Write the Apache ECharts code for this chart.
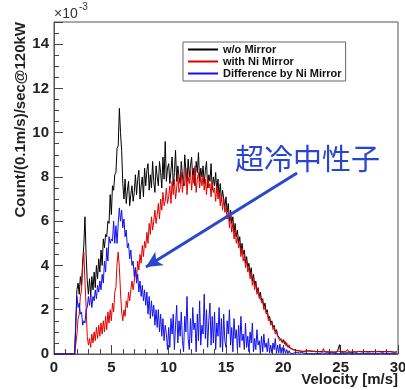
<!DOCTYPE html>
<html>
<head>
<meta charset="utf-8">
<script src="https://cdn.jsdelivr.net/npm/echarts@6/dist/echarts.min.js"></script>
<style>
  html, body { margin: 0; padding: 0; background: #fff; }
  #chart { width: 405px; height: 390px; }
</style>
</head>
<body>
<div id="chart"></div>
<script>
// 0.1 m/s bins starting at 0 m/s, units of 1e-3 counts
const binStart = 0;
const binWidth = 0.1;

const seriesNames = ['w/o Mirror', 'with Ni Mirror', 'Difference by Ni Mirror'];

// w/o Mirror (black)
const noMirror = [
  0, 0, 0, 0, 0, 0, 0, 0, 0, 0,
  0, 0, 0, 0, 0, 0, 0, 0, 0, 0,
  2.9, 3.2, 2.7, 3.5, 3.1, 4.2, 4.9, 6.2, 4.5, 3.3,
  2.7, 3.4, 2.6, 3.5, 2.9, 3.7, 3.0, 4.0, 3.4, 4.3,
  3.7, 4.7, 4.0, 5.2, 4.8, 5.4, 5.3, 6.0, 5.9, 7.2,
  6.3, 7.6, 7.4, 8.1, 8.2, 9.3, 9.4, 11.1, 10.0, 9.2,
  7.7, 7.0, 7.9, 6.8, 7.4, 7.8, 6.7, 7.2, 7.6, 6.9,
  7.3, 8.1, 7.2, 7.9, 8.3, 7.0, 7.6, 8.0, 7.1, 8.4,
  7.6, 8.3, 8.6, 7.4, 8.1, 7.5, 8.7, 7.8, 7.3, 8.5,
  8.0, 7.6, 8.7, 8.2, 7.5, 8.9, 7.9, 9.6, 7.8, 8.4,
  8.6, 7.7, 8.3, 8.9, 7.6, 8.2, 9.2, 7.8, 8.5, 8.0,
  7.7, 8.7, 8.1, 7.6, 9.0, 8.3, 7.8, 8.8, 8.0, 8.5,
  8.9, 7.9, 8.4, 7.6, 8.7, 8.2, 9.1, 7.8, 8.4, 8.0,
  8.5, 7.7, 8.3, 8.7, 7.5, 8.1, 7.8, 8.6, 7.4, 8.0,
  7.6, 8.2, 7.3, 7.9, 7.1, 7.7, 6.9, 7.4, 7.0, 6.6,
  7.1, 6.4, 6.8, 6.0, 6.5, 5.9, 6.2, 5.5, 5.9, 5.3,
  5.6, 5.0, 5.3, 4.6, 5.0, 4.5, 4.7, 4.1, 4.4, 3.9,
  4.1, 3.6, 3.9, 3.3, 3.6, 3.1, 3.3, 2.8, 3.0, 2.6,
  2.8, 2.4, 2.5, 2.1, 2.3, 1.9, 2.0, 1.6, 1.7, 1.4,
  1.5, 1.2, 1.3, 1.0, 1.1, 0.85, 0.9, 0.7, 0.75, 0.55,
  0.65, 0.45, 0.55, 0.38, 0.45, 0.3, 0.38, 0.25, 0.3, 0.2,
  0.26, 0.17, 0.22, 0.16, 0.2, 0.13, 0.19, 0.12, 0.16, 0.13,
  0.12, 0.14, 0.1, 0.13, 0.11, 0.12, 0.09, 0.13, 0.1, 0.11,
  0.1, 0.12, 0.08, 0.11, 0.09, 0.13, 0.08, 0.1, 0.12, 0.09,
  0.1, 0.08, 0.11, 0.09, 0.12, 0.08, 0.1, 0.09, 0.11, 0.42,
  0.09, 0.11, 0.08, 0.1, 0.09, 0.12, 0.08, 0.1, 0.09, 0.11,
  0.08, 0.1, 0.09, 0.11, 0.08, 0.1, 0.12, 0.09, 0.1, 0.08,
  0.1, 0.09, 0.11, 0.08, 0.1, 0.09, 0.12, 0.08, 0.1, 0.09,
  0.11, 0.08, 0.1, 0.09, 0.12, 0.08, 0.1, 0.09, 0.11, 0.08,
  0.1, 0.09, 0.11, 0.08, 0.1, 0.09, 0.08, 0.1, 0.09, 0.1
];

// with Ni Mirror (red)
const niMirror = [
  0, 0, 0, 0, 0, 0, 0, 0, 0, 0,
  0, 0, 0, 0, 0, 0, 0, 0, 0, 0,
  0.9, 1.6, 1.8, 2.6, 2.9, 3.9, 4.6, 3.3, 2.1, 0.8,
  0.4, 0.7, 0.3, 0.9, 0.5, 1.0, 0.6, 1.2, 0.7, 1.3,
  0.8, 1.4, 0.9, 1.5, 1.0, 1.7, 1.1, 1.9, 1.4, 2.0,
  1.5, 2.3, 1.9, 2.8, 3.0, 4.1, 4.6, 3.9, 2.8, 1.9,
  1.5, 2.0, 1.7, 2.4, 2.1, 2.8, 2.4, 2.9, 3.3, 2.9,
  3.3, 3.9, 3.4, 4.2, 3.8, 4.5, 4.1, 4.9, 4.4, 5.1,
  4.8, 5.5, 5.0, 5.9, 5.4, 6.2, 5.6, 6.0, 6.5, 5.9,
  6.3, 6.8, 6.1, 7.0, 6.5, 7.3, 6.7, 6.9, 7.5, 6.8,
  7.1, 7.6, 6.8, 7.8, 7.2, 7.9, 7.0, 7.5, 8.1, 7.3,
  7.5, 8.2, 7.3, 7.9, 7.6, 8.4, 7.2, 8.0, 7.7, 8.3,
  7.4, 8.1, 7.7, 8.5, 7.3, 7.9, 8.2, 7.5, 8.0, 7.6,
  8.1, 7.4, 7.9, 7.2, 8.0, 7.5, 7.7, 7.1, 7.8, 7.3,
  7.5, 6.9, 7.6, 7.0, 7.3, 6.7, 7.2, 6.5, 7.0, 6.4,
  6.6, 6.1, 6.4, 5.7, 6.2, 5.5, 5.9, 5.2, 5.6, 5.0,
  5.3, 4.8, 5.0, 4.4, 4.8, 4.2, 4.5, 3.9, 4.2, 3.7,
  3.9, 3.4, 3.7, 3.1, 3.4, 2.9, 3.2, 2.7, 2.9, 2.5,
  2.6, 2.3, 2.4, 2.0, 2.1, 1.8, 1.9, 1.5, 1.6, 1.3,
  1.4, 1.1, 1.2, 0.9, 1.0, 0.8, 0.8, 0.6, 0.7, 0.5,
  0.45, 0.6, 0.38, 0.5, 0.3, 0.42, 0.25, 0.34, 0.2, 0.28,
  0.17, 0.24, 0.15, 0.21, 0.13, 0.19, 0.12, 0.17, 0.11, 0.16,
  0.13, 0.1, 0.15, 0.11, 0.14, 0.1, 0.12, 0.16, 0.1, 0.13,
  0.11, 0.14, 0.09, 0.12, 0.1, 0.25, 0.09, 0.12, 0.1, 0.13,
  0.09, 0.12, 0.1, 0.11, 0.08, 0.13, 0.1, 0.09, 0.12, 0.1,
  0.1, 0.08, 0.12, 0.09, 0.11, 0.1, 0.2, 0.09, 0.11, 0.08,
  0.1, 0.12, 0.08, 0.1, 0.09, 0.11, 0.08, 0.12, 0.09, 0.1,
  0.08, 0.11, 0.1, 0.09, 0.12, 0.08, 0.1, 0.11, 0.09, 0.1,
  0.09, 0.11, 0.08, 0.12, 0.1, 0.09, 0.11, 0.08, 0.1, 0.12,
  0.09, 0.1, 0.08, 0.11, 0.09, 0.1, 0.12, 0.08, 0.1, 0.09
];

// Difference by Ni Mirror (blue)
const difference = [
  0, 0, 0, 0, 0, 0, 0, 0, 0, 0,
  0, 0, 0, 0, 0, 0, 0, 0, 0, 0,
  2.6, 2.1, 2.3, 1.8, 1.9, 1.3, 1.5, 1.4, 2.0, 2.1,
  2.6, 2.2, 2.7, 2.1, 2.6, 2.4, 2.9, 2.5, 3.1, 2.8,
  3.3, 2.9, 3.6, 3.2, 4.2, 3.7, 4.8, 4.2, 5.3, 5.0,
  5.2, 5.1, 6.0, 5.0, 5.8, 5.0, 5.9, 6.6, 6.0, 6.5,
  5.7, 6.1, 5.3, 5.6, 4.8, 5.0, 4.3, 4.7, 4.0, 4.2,
  3.5, 3.9, 3.2, 3.6, 2.8, 3.3, 2.6, 3.1, 2.4, 2.9,
  2.2, 2.8, 1.8, 2.6, 1.6, 2.4, 1.7, 2.2, 1.3, 2.0,
  1.2, 2.0, 1.0, 1.8, 0.8, 1.6, 0.6, 1.3, 0.9, 0.2,
  1.2, 0.3, 1.6, 0.9, 1.8, 0.2, 1.3, 2.2, 0.5, 1.5,
  0.8, 1.9, 0.6, 0.1, 1.7, 1.0, 2.6, 0.7, 0.2, 1.6,
  0.5, 2.1, 1.1, 1.4, 0.1, 1.8, 0.6, 2.4, 0.4, 1.3,
  0.9, 2.7, 0.7, 2.0, 0.3, 1.5, 2.3, 0.4, 1.7, 0.5,
  1.9, 0.2, 1.4, 0.8, 2.1, 0.3, 1.6, 0.1, 1.8, 0.6,
  0.3, 1.5, 0.9, 2.0, 0.4, 1.2, 0.1, 1.6, 0.7, 1.1,
  0.2, 1.3, 0.3, 1.7, 0.6, 0.9, 0.2, 1.4, 0.3, 0.8,
  0.1, 1.0, 0.5, 1.4, 0.1, 0.7, 0.2, 1.1, 0.4, 0.6,
  0.05, 0.8, 0.1, 0.9, 0.3, 0.5, 0.1, 0.7, 0.05, 0.4,
  0.05, 0.5, 0.2, 0.7, 0.03, 0.4, 0.05, 0.45, 0.03, 0.3,
  0.04, 0.25, 0.03, 0.2, 0.02, 0.15, 0.04, 0.12, 0.02, 0.1,
  0.06, 0.02, 0.08, 0.03, 0.05, 0.01, 0.07, 0.02, 0.04, 0.01,
  0.03, 0.05, 0.01, 0.04, 0.02, 0.06, 0.01, 0.03, 0.02, 0.04,
  0.02, 0.04, 0.01, 0.03, 0.05, 0.01, 0.03, 0.02, 0.04, 0.01,
  0.03, 0.01, 0.04, 0.02, 0.03, 0.01, 0.02, 0.04, 0.01, 0.03,
  0.02, 0.03, 0.01, 0.04, 0.02, 0.01, 0.03, 0.02, 0.04, 0.01,
  0.02, 0.04, 0.01, 0.03, 0.02, 0.03, 0.01, 0.02, 0.03, 0.01,
  0.03, 0.01, 0.02, 0.04, 0.01, 0.02, 0.03, 0.01, 0.02, 0.03,
  0.01, 0.03, 0.02, 0.01, 0.03, 0.02, 0.04, 0.01, 0.02, 0.03,
  0.02, 0.01, 0.03, 0.02, 0.01, 0.03, 0.02, 0.01, 0.02, 0.01
];

// arrow pointing at the UCN component, in data coordinates [v, count]
const arrowFrom = [21.2, 8.18];
const arrowTo = [8.02, 3.93];

const toPairs = arr => arr.map((y, i) => [+(binStart + i * binWidth).toFixed(1), y]);

const font = '"Liberation Sans", Arial, Helvetica, sans-serif';
const myChart = echarts.init(document.getElementById('chart'), null, { renderer: 'canvas' });

const options = {
    animation: false,
    backgroundColor: '#fff',
    grid: {
        left: 54, top: 22, right: 7, bottom: 36,
        containLabel: false,
        outerBoundsMode: 'none',
        show: true,
        borderColor: '#555',
        borderWidth: 1
    },
    legend: {
        orient: 'vertical',
        left: 183,
        top: 42,
        data: seriesNames,
        itemWidth: 30,
        itemHeight: 12,
        itemGap: 1,
        itemStyle: { opacity: 0 },
        padding: [2, 4, 2, 4],
        borderColor: '#666',
        borderWidth: 1,
        backgroundColor: '#fff',
        textStyle: { fontFamily: font, fontWeight: 'bold', fontSize: 11, color: '#111' }
    },
    xAxis: {
        type: 'value',
        min: 0,
        max: 30,
        interval: 5,
        axisLine: { show: true, lineStyle: { color: '#555' } },
        axisTick: { inside: true, length: 9, lineStyle: { color: '#444' } },
        minorTick: { show: true, splitNumber: 5, length: 5, lineStyle: { color: '#444' } },
        splitLine: { show: false },
        axisLabel: { fontFamily: font, fontWeight: 'bold', fontSize: 15, color: '#222', margin: 6 }
    },
    yAxis: {
        type: 'value',
        min: 0,
        max: 15,
        interval: 2,
        axisLine: { show: true, lineStyle: { color: '#555' } },
        axisTick: { inside: true, length: 9, lineStyle: { color: '#444' } },
        minorTick: { show: true, splitNumber: 4, length: 5, lineStyle: { color: '#444' } },
        splitLine: { show: false },
        axisLabel: { fontFamily: font, fontWeight: 'bold', fontSize: 15, color: '#222', margin: 5, showMaxLabel: false }
    },
    graphic: [
        {
            type: 'text', x: 21, y: 22, rotation: Math.PI / 2,
            style: {
                text: 'Count/(0.1m/s)/sec@120kW', font: 'bold 15px ' + font, fill: '#222',
                align: 'right', verticalAlign: 'middle'
            }
        },
        {
            type: 'text', x: 398, y: 372,
            style: { text: 'Velocity [m/s]', font: 'bold 15px ' + font, fill: '#222', align: 'right', verticalAlign: 'top' }
        },
        { type: 'text', left: 54, top: 7, style: { text: '×10', font: '14px ' + font, fill: '#333' } },
        { type: 'text', left: 79, top: 2, style: { text: '-3', font: '10px ' + font, fill: '#333' } },
        { type: 'text', left: 235, top: 144, style: { text: '超冷中性子', font: '29px "Noto Sans CJK JP", sans-serif', fill: '#2a45d0' } }
    ],
    series: [
        {
            name: seriesNames[0],
            type: 'line',
            symbol: 'none',
            color: '#000',
            lineStyle: { width: 1 },
            data: toPairs(noMirror)
        },
        {
            name: seriesNames[1],
            type: 'line',
            symbol: 'none',
            color: '#e00000',
            lineStyle: { width: 1 },
            data: toPairs(niMirror)
        },
        {
            name: seriesNames[2],
            type: 'line',
            symbol: 'none',
            color: '#1010ee',
            lineStyle: { width: 1 },
            data: toPairs(difference),
            markLine: {
                silent: true,
                symbol: ['none', 'arrow'],
                symbolSize: [12, 16],
                label: { show: false },
                lineStyle: { color: '#2a45d0', width: 3, type: 'solid' },
                data: [[{ coord: arrowFrom }, { coord: arrowTo }]]
            }
        }
    ]
};

myChart.setOption(options);
</script>
</body>
</html>
